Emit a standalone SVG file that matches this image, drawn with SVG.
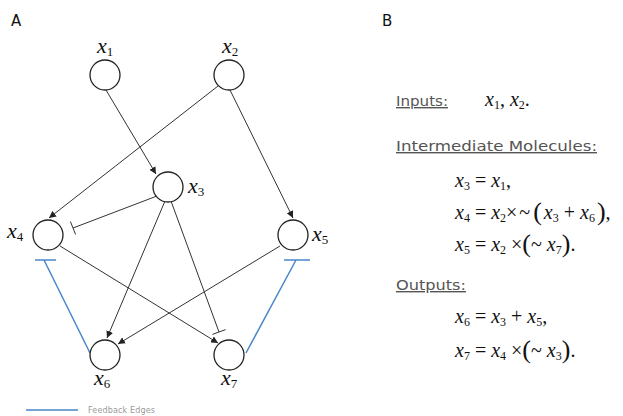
<svg xmlns="http://www.w3.org/2000/svg" width="623" height="416" viewBox="0 0 623 416">
<defs>
<marker id="arr" viewBox="0 0 10 10" refX="10" refY="5" markerWidth="7" markerHeight="7" markerUnits="userSpaceOnUse" orient="auto">
<path d="M0,0 L10,5 L0,10 z" fill="#222"/>
</marker>
</defs>
<style>
.node circle{fill:#fff;stroke:#222;stroke-width:1.3}
.e{stroke:#333;stroke-width:1;fill:none}
.fb{stroke:#4a86c8;stroke-width:1.5;fill:none}
.lbl{font-family:"Liberation Serif",serif;font-style:italic;font-size:22px;fill:#111}
.lbl .s{font-style:normal;font-size:13px}
.hd{font-family:"DejaVu Sans",sans-serif;font-size:15px;fill:#111}
.sec{font-family:"DejaVu Sans",sans-serif;font-size:14px;fill:#555;text-decoration:underline}
.m{font-family:"Liberation Serif",serif;font-size:20px;fill:#111}
.m .v{font-style:italic}
.m .s{font-size:12px}
.m .p{font-size:26px}
.leg{font-family:"DejaVu Sans",sans-serif;font-size:8px;fill:#999}
</style>
<text class="hd" x="11" y="26">A</text>
<text class="hd" x="382" y="26">B</text>
<g id="edges">
<line class="e" x1="106" y1="90" x2="156" y2="174" marker-end="url(#arr)"/>
<line class="e" x1="218" y1="86" x2="49" y2="218" marker-end="url(#arr)"/>
<line class="e" x1="230" y1="90" x2="293" y2="218" marker-end="url(#arr)"/>
<line class="e" x1="157" y1="196" x2="73" y2="228"/>
<line class="e" x1="70.4" y1="221.5" x2="75.6" y2="234.5"/>
<line class="e" x1="165" y1="201" x2="107" y2="338" marker-end="url(#arr)"/>
<line class="e" x1="171" y1="201" x2="219" y2="332"/>
<line class="e" x1="212.4" y1="334.4" x2="225.6" y2="329.6"/>
<line class="e" x1="60" y1="246" x2="218" y2="343" marker-end="url(#arr)"/>
<line class="e" x1="280" y1="246" x2="118" y2="344" marker-end="url(#arr)"/>
<line class="fb" x1="90" y1="353" x2="44" y2="260"/>
<line class="fb" x1="35" y1="260" x2="56" y2="260"/>
<line class="fb" x1="246" y1="353" x2="296" y2="260"/>
<line class="fb" x1="284" y1="260" x2="310" y2="260"/>
</g>
<g id="x1" class="node"><circle cx="105" cy="75" r="15"/><text class="lbl" x="97" y="53">x<tspan class="s" dy="3">1</tspan></text></g>
<g id="x2" class="node"><circle cx="229" cy="75" r="15"/><text class="lbl" x="222" y="53">x<tspan class="s" dy="3">2</tspan></text></g>
<g id="x3" class="node"><circle cx="168" cy="187" r="15"/><text class="lbl" x="188" y="193">x<tspan class="s" dy="3">3</tspan></text></g>
<g id="x4" class="node"><circle cx="48" cy="235" r="15"/><text class="lbl" x="7" y="238">x<tspan class="s" dy="3">4</tspan></text></g>
<g id="x5" class="node"><circle cx="293" cy="235" r="15"/><text class="lbl" x="312" y="241">x<tspan class="s" dy="3">5</tspan></text></g>
<g id="x6" class="node"><circle cx="105" cy="355" r="15"/><text class="lbl" x="94" y="385">x<tspan class="s" dy="3">6</tspan></text></g>
<g id="x7" class="node"><circle cx="229" cy="355" r="15"/><text class="lbl" x="221" y="385">x<tspan class="s" dy="3">7</tspan></text></g>
<g id="legend">
<line class="fb" x1="26" y1="410" x2="78" y2="410"/>
<text class="leg" x="88" y="413" textLength="67" lengthAdjust="spacing">Feedback Edges</text>
</g>
<g id="panelB">
<text class="sec" x="396" y="106" textLength="52" lengthAdjust="spacingAndGlyphs">Inputs:</text>
<text class="m" x="485" y="106"><tspan class="v">x</tspan><tspan class="s" dy="3">1</tspan><tspan dy="-3">, </tspan><tspan class="v">x</tspan><tspan class="s" dy="3">2</tspan><tspan dy="-3">.</tspan></text>
<text class="sec" x="396" y="151" textLength="201" lengthAdjust="spacingAndGlyphs">Intermediate Molecules:</text>
<text class="m" x="455" y="187"><tspan class="v">x</tspan><tspan class="s" dy="3">3</tspan><tspan dy="-3"> = </tspan><tspan class="v">x</tspan><tspan class="s" dy="3">1</tspan><tspan dy="-3">,</tspan></text>
<text class="m" x="455" y="219"><tspan class="v">x</tspan><tspan class="s" dy="3">4</tspan><tspan dy="-3"> = </tspan><tspan class="v">x</tspan><tspan class="s" dy="3">2</tspan><tspan dy="-3">×</tspan><tspan dx="2">~</tspan><tspan class="p" dx="3" dy="1">(</tspan><tspan class="v" dx="2" dy="-1">x</tspan><tspan class="s" dy="3">3</tspan><tspan dy="-3"> + </tspan><tspan class="v">x</tspan><tspan class="s" dy="3">6</tspan><tspan class="p" dx="2" dy="-2">)</tspan><tspan dy="-1">,</tspan></text>
<text class="m" x="455" y="251"><tspan class="v">x</tspan><tspan class="s" dy="3">5</tspan><tspan dy="-3"> = </tspan><tspan class="v">x</tspan><tspan class="s" dy="3">2</tspan><tspan dy="-3"> ×</tspan><tspan class="p" dy="1">(</tspan><tspan dy="-1">~ </tspan><tspan class="v">x</tspan><tspan class="s" dy="3">7</tspan><tspan class="p" dy="-2">)</tspan><tspan dy="-1">.</tspan></text>
<text class="sec" x="396" y="290" textLength="70" lengthAdjust="spacingAndGlyphs">Outputs:</text>
<text class="m" x="455" y="323"><tspan class="v">x</tspan><tspan class="s" dy="3">6</tspan><tspan dy="-3"> = </tspan><tspan class="v">x</tspan><tspan class="s" dy="3">3</tspan><tspan dy="-3"> + </tspan><tspan class="v">x</tspan><tspan class="s" dy="3">5</tspan><tspan dy="-3">,</tspan></text>
<text class="m" x="455" y="357"><tspan class="v">x</tspan><tspan class="s" dy="3">7</tspan><tspan dy="-3"> = </tspan><tspan class="v">x</tspan><tspan class="s" dy="3">4</tspan><tspan dy="-3"> ×</tspan><tspan class="p" dy="1">(</tspan><tspan dy="-1">~ </tspan><tspan class="v">x</tspan><tspan class="s" dy="3">3</tspan><tspan class="p" dy="-2">)</tspan><tspan dy="-1">.</tspan></text>
</g>
</svg>
